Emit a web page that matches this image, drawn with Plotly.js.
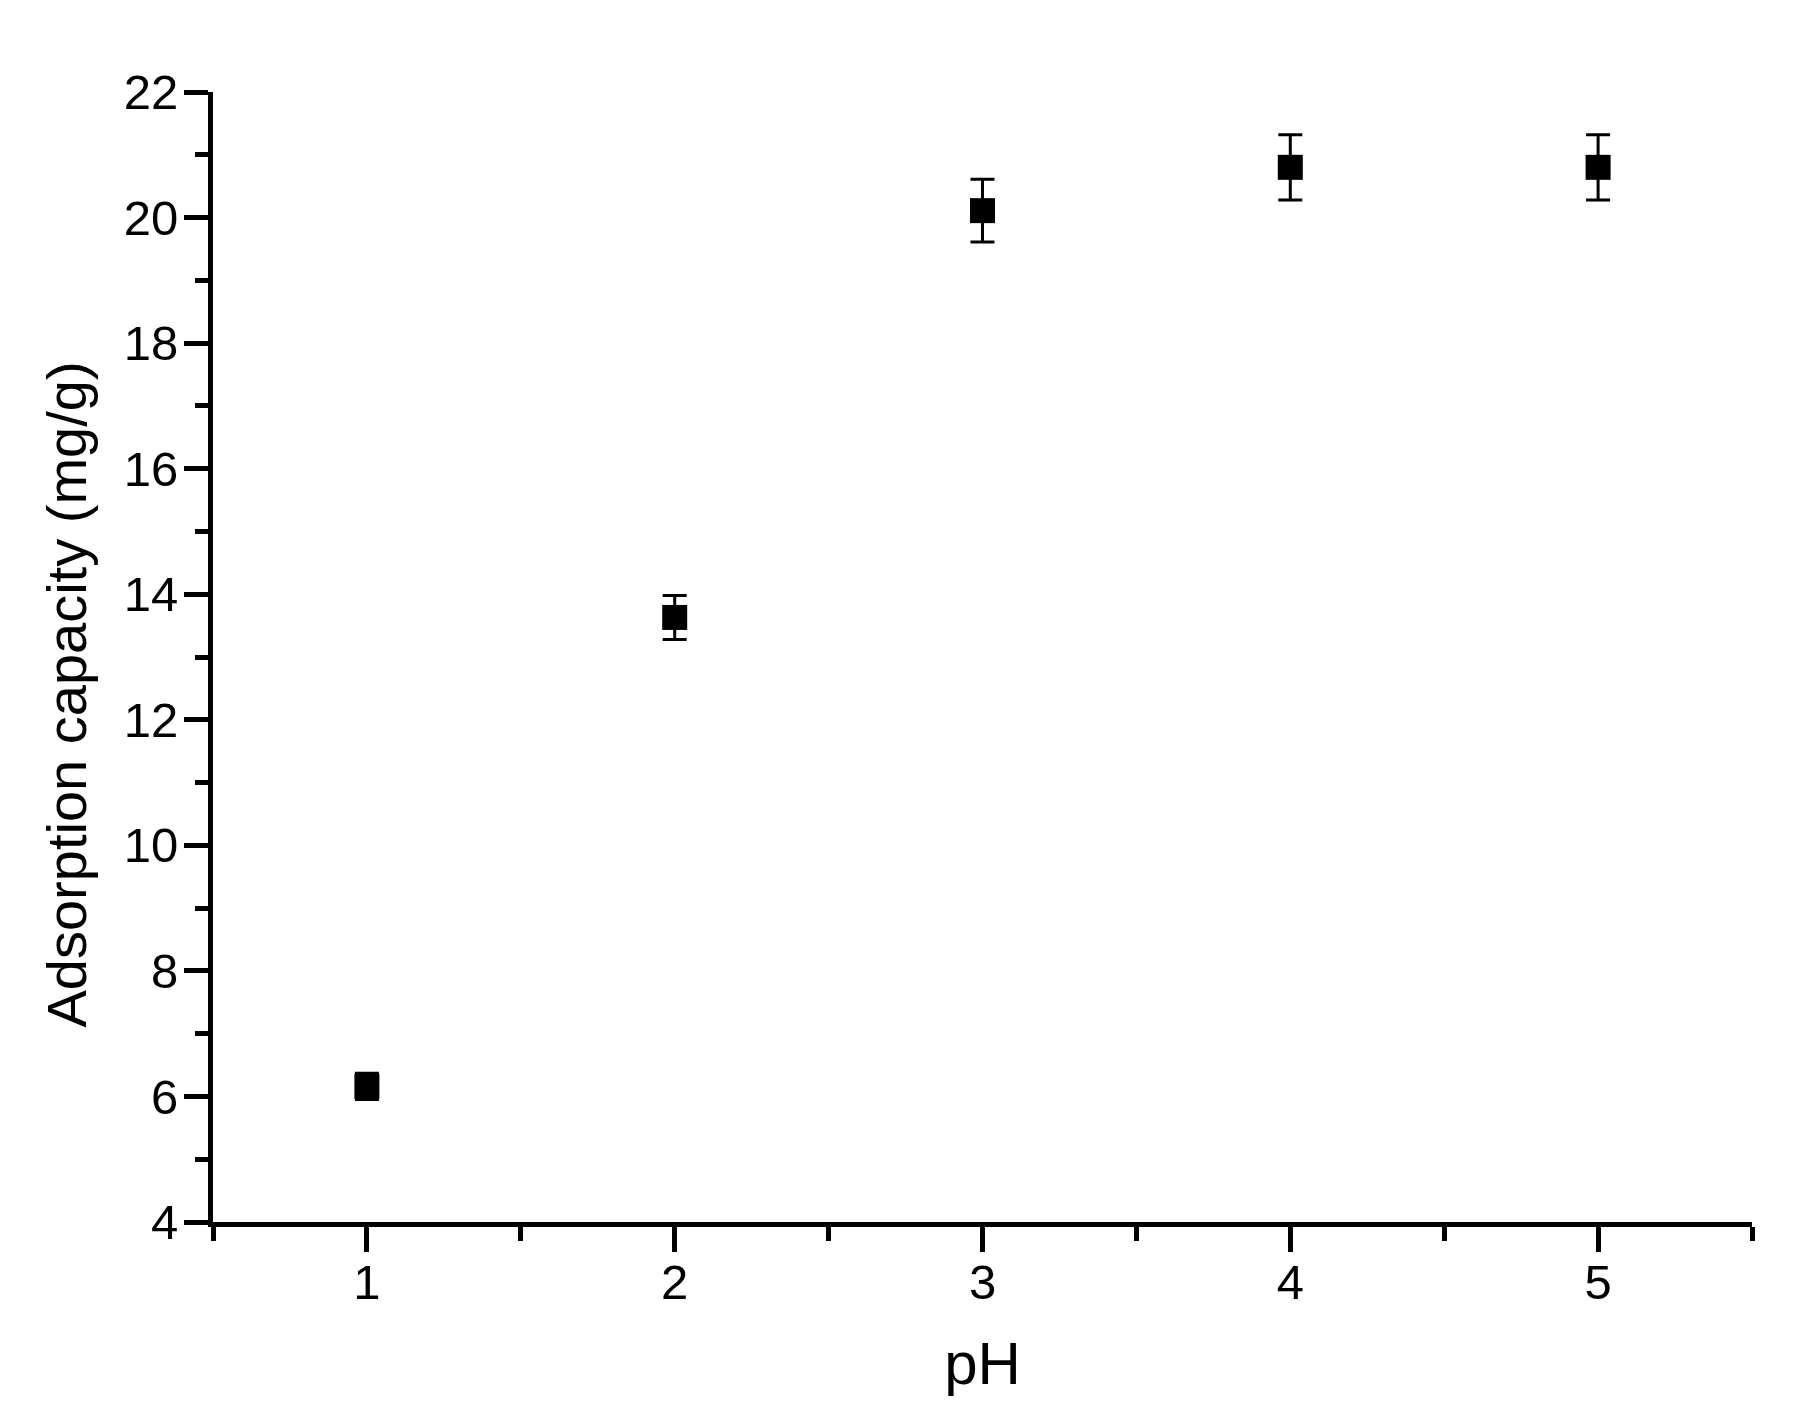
<!DOCTYPE html>
<html>
<head>
<meta charset="utf-8">
<script src="https://cdn.plot.ly/plotly-3.0.1.min.js"></script>
<style>html,body{margin:0;padding:0;background:#fff;}</style>
</head>
<body>
<div id="chart" style="width:1806px;height:1413px;"></div>
<script>
var pH = [1, 2, 3, 4, 5];
var capacity = [6.16, 13.63, 20.11, 20.80, 20.80];
var capacityErr = [0.21, 0.35, 0.5, 0.52, 0.52];
var xTitle = 'pH';
var yTitle = 'Adsorption capacity (mg/g)';

var FONT = '"Liberation Sans", Arial, sans-serif';

var trace = {
  x: pH,
  y: capacity,
  type: 'scatter',
  mode: 'markers',
  marker: {symbol: 'square', size: 25, color: '#000'},
  error_y: {type: 'data', array: capacityErr, visible: true, color: '#000', thickness: 3, width: 12},
  showlegend: false,
  hoverinfo: 'x+y'
};

var layout = {
  width: 1806,
  height: 1413,
  margin: {l: 213, r: 54, t: 92, b: 191},
  paper_bgcolor: '#fff',
  plot_bgcolor: '#fff',
  font: {family: FONT, color: '#000'},
  xaxis: {
    range: [0.5, 5.5],
    tickmode: 'linear', tick0: 1, dtick: 1,
    ticks: 'outside', ticklen: 25, tickwidth: 5, tickcolor: '#000',
    ticklabelstandoff: -12,
    minor: {tickmode: 'linear', tick0: 0.5, dtick: 0.5, ticks: 'outside', ticklen: 14, tickwidth: 5, tickcolor: '#000'},
    showline: true, linewidth: 5, linecolor: '#000',
    showgrid: false, zeroline: false,
    tickfont: {family: FONT, size: 49, color: '#000'},
    title: {text: xTitle, font: {family: FONT, size: 60, color: '#000'}, standoff: 36}
  },
  yaxis: {
    range: [4, 22],
    tickmode: 'linear', tick0: 4, dtick: 2,
    ticks: 'outside', ticklen: 24, tickwidth: 5, tickcolor: '#000',
    ticklabelstandoff: -4,
    minor: {tickmode: 'linear', tick0: 4, dtick: 1, ticks: 'outside', ticklen: 13, tickwidth: 5, tickcolor: '#000'},
    showline: true, linewidth: 5, linecolor: '#000',
    showgrid: false, zeroline: false,
    tickfont: {family: FONT, size: 49, color: '#000'}
  },
  annotations: [{
    text: yTitle,
    xref: 'paper', yref: 'paper',
    x: -0.0955, y: 0.4668,
    xanchor: 'center', yanchor: 'middle',
    textangle: -90,
    showarrow: false,
    font: {family: FONT, size: 56, color: '#000'}
  }]
};

Plotly.newPlot('chart', [trace], layout, {displayModeBar: false, staticPlot: true});
</script>
</body>
</html>
